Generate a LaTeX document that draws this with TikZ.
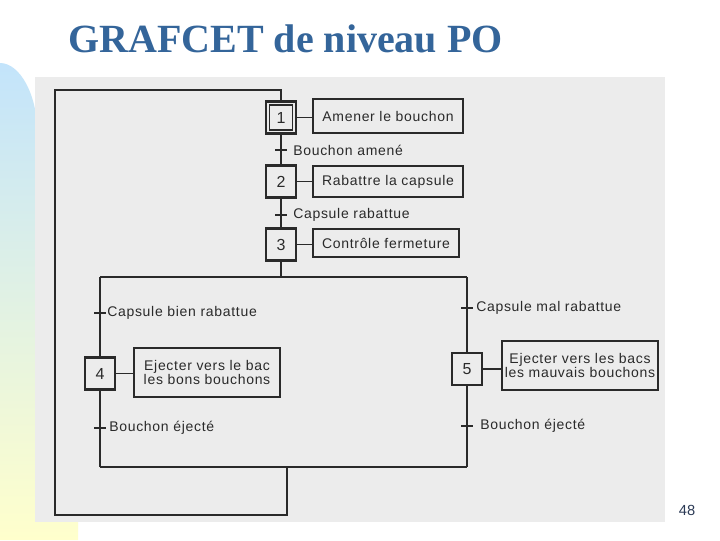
\documentclass[tikz,border=0pt]{standalone}
\usepackage{fontspec}
\setmainfont{Liberation Serif}
\newfontfamily\scanfont[LetterSpace=5]{Liberation Sans}
\newfontfamily\numfont{Liberation Sans}
\definecolor{ink}{HTML}{2A2A2A}
\definecolor{scanbg}{HTML}{ECECEC}
\definecolor{titleblue}{HTML}{34659A}
\definecolor{stripeblue}{HTML}{C3E4FB}
\definecolor{stripeyellow}{HTML}{FFFFCC}
\definecolor{pagenum}{HTML}{2B3A55}
\tikzset{
  wire/.style={draw=ink, line width=1.3pt},
  tick/.style={draw=ink, line width=1.2pt},
  stepbox/.style={draw=ink, line width=1.6pt, fill=scanbg, minimum width=22.5pt, minimum height=24pt, inner sep=0pt,
    font=\numfont\fontsize{12}{12}\selectfont, text=ink},
  actbox/.style={draw=ink, line width=1.4pt, fill=scanbg, inner sep=0pt, align=center,
    font=\scanfont\fontsize{10.5}{10}\selectfont, text=ink},
  condlabel/.style={anchor=west, inner sep=0pt, font=\scanfont\fontsize{10.5}{10.5}\selectfont, text=ink}
}
\begin{document}
\begin{tikzpicture}[x=0.75pt,y=-0.75pt]
\useasboundingbox (0,0) rectangle (720,540);
\fill[white] (0,0) rectangle (720,540);
% decorative stripe
\shade[top color=stripeblue, bottom color=stripeyellow]
  (0,540) -- (0,63) .. controls (20,63) and (37,95) .. (37,130) -- (37,300) -- (78,300) -- (78,540) -- cycle;
% title
\node[anchor=base west, inner sep=0pt, text=titleblue, font=\fontsize{30}{30}\selectfont\bfseries] (title) at (68,52) {GRAFCET de niveau PO};
% scanned background
\fill[scanbg] (35,77) rectangle (665,522);
% page number
\node[font=\numfont\fontsize{11}{11}\selectfont, text=pagenum] (page) at (687,510) {48};

% steps
\node[stepbox] (s1) at (281,117.5) {1};
\node[stepbox] (s2) at (281,181.5) {2};
\node[stepbox] (s3) at (281,244.5) {3};
\node[stepbox] (s4) at (100,373.5) {4};
\node[stepbox] (s5) at (467,369) {5};
\draw[ink, line width=1.2pt] ([shift={(4.5,4.5)}]s1.north west) rectangle ([shift={(-4.5,-4.5)}]s1.south east);

% actions
\node[actbox, minimum width=112.5pt, minimum height=25.5pt] (a1) at (388,116) {Amener le bouchon};
\node[actbox, minimum width=112.5pt, minimum height=23.5pt] (a2) at (388,181.5) {Rabattre la capsule};
\node[actbox, minimum width=109.5pt, minimum height=21pt] (a3) at (386,243) {Contrôle fermeture};
\node[actbox, minimum width=109.5pt, minimum height=36.5pt] (a4) at (207,372.5) {Ejecter vers le bac\\les bons bouchons};
\node[actbox, minimum width=117pt, minimum height=36.5pt] (a5) at (580,365.5) {Ejecter vers les bacs\\les mauvais bouchons};

\draw[wire] (s1.east) -- (s1.east -| a1.west);
\draw[wire] (s2.east) -- (s2.east -| a2.west);
\draw[wire] (s3.east) -- (s3.east -| a3.west);
\draw[wire] (s4.east) -- (s4.east -| a4.west);
\draw[wire] (s5.east) -- (s5.east -| a5.west);

% coordinates
\coordinate (dv) at (281,277);
\coordinate (dvL) at (100,277);
\coordinate (dvR) at (467,277);
\coordinate (cvL) at (100,467);
\coordinate (cvR) at (467,467);
\coordinate (cvO) at (287,467);
\coordinate (lBR) at (287,515);
\coordinate (lBL) at (55,515);
\coordinate (lTL) at (55,90);
\coordinate (lTR) at (281,90);

% sequence
\draw[wire] (s1) -- (s2);
\draw[wire] (s2) -- (s3);
\draw[wire] (s3) -- (dv);
\draw[wire] (dvL) -- (dvR);
\draw[wire] (dvL) -- (s4);
\draw[wire] (dvR) -- (s5);
\draw[wire] (s4) -- (cvL);
\draw[wire] (s5) -- (cvR);
\draw[wire] (cvL) -- (cvR);
\draw[wire] (cvO) -- (lBR) -- (lBL) -- (lTL) -- (lTR) -- (s1);

% transitions
\coordinate (t1) at (281,150);
\coordinate (t2) at (281,215);
\coordinate (t3) at (100,313);
\coordinate (t4) at (100,428);
\coordinate (t5) at (467,308);
\coordinate (t6) at (467,426);
\foreach \t in {t1,t2,t3,t4,t5,t6}{
  \draw[tick] ([shift={(-6,0)}]\t) -- ([shift={(6,0)}]\t);
}
\node[condlabel] (c1) at ([shift={(12,0)}]t1) {Bouchon amené};
\node[condlabel] (c2) at ([shift={(12,0)}]t2) {Capsule rabattue};
\node[condlabel] (c3) at ([shift={(7,0)}]t3) {Capsule bien rabattue};
\node[condlabel] (c4) at ([shift={(9,0)}]t4) {Bouchon éjecté};
\node[condlabel] (c5) at ([shift={(9,0)}]t5) {Capsule mal rabattue};
\node[condlabel] (c6) at ([shift={(13,0)}]t6) {Bouchon éjecté};
\end{tikzpicture}
\end{document}
